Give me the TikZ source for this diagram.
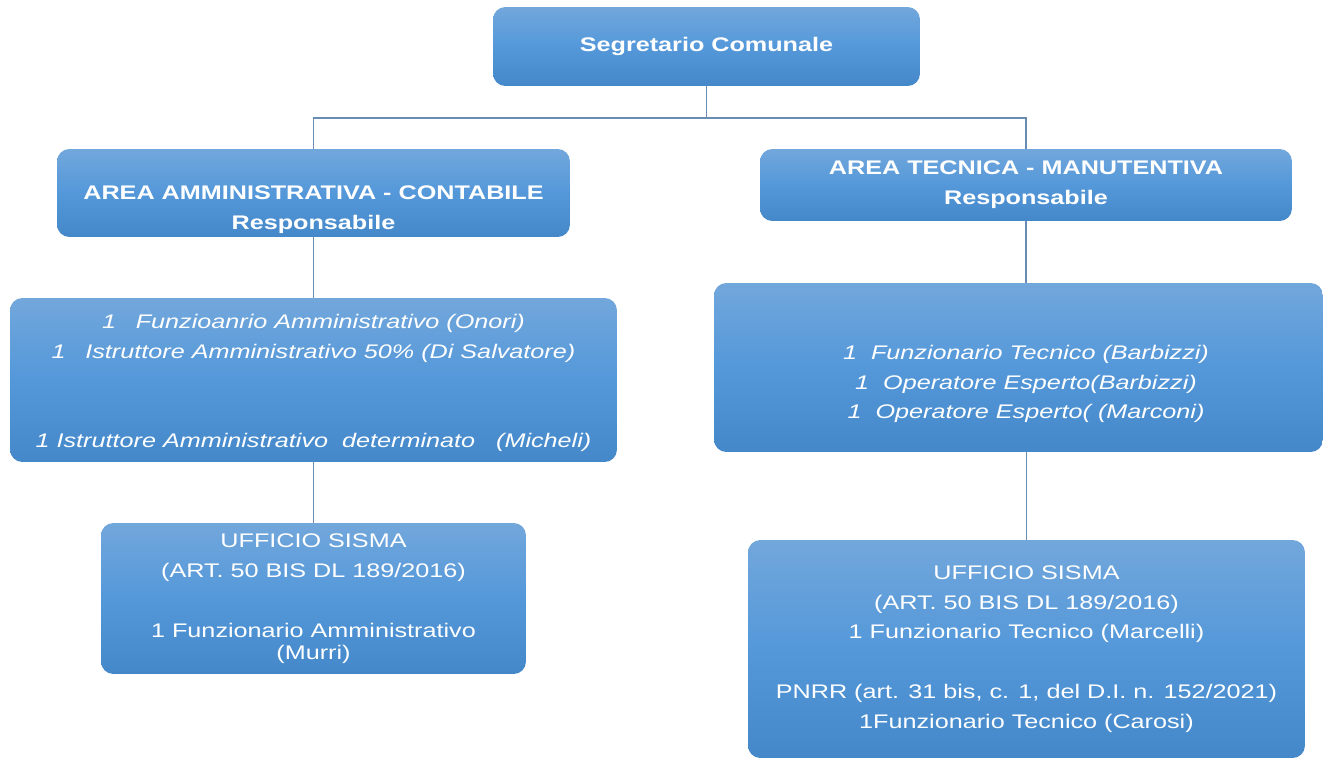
\documentclass[tikz,border=0pt]{standalone}
\usepackage{fontspec}
\setmainfont{Liberation Sans}[FakeStretch=1.28]
\definecolor{boxtop}{RGB}{114,167,219}
\definecolor{boxmid}{RGB}{84,152,218}
\definecolor{boxbot}{RGB}{68,136,201}
\definecolor{linkblue}{RGB}{105,140,180}
\begin{document}
\begin{tikzpicture}[x=0.02cm,y=-0.02cm,
        box/.style={rounded corners=7pt,top color=boxtop,bottom color=boxbot,middle color=boxmid,text=white,align=center,inner sep=0pt},
        head/.style={box,font=\fontsize{11.2}{17}\selectfont\bfseries},
        headtext/.style={text=white,align=center,font=\fontsize{11.2}{17}\selectfont\bfseries},
        staff/.style={box,font=\fontsize{11.2}{17}\selectfont\itshape},
        stafftext/.style={text=white,align=center,font=\fontsize{11.2}{17}\selectfont\itshape},
        office/.style={box,font=\fontsize{11.2}{17}\selectfont},
        link/.style={draw=linkblue,line width=0.8pt}]
        \useasboundingbox (0,0) rectangle (1323,760);

        \node[head,minimum width=8.54cm,minimum height=1.58cm] (seg) at (706.5,46.5) {Segretario Comunale};
        \node[head,minimum width=10.26cm,minimum height=1.76cm] (amm) at (313.5,193) {};
        \node[headtext] (ammtext) at (313.5,210) {AREA AMMINISTRATIVA - CONTABILE\\Responsabile};
        \node[head,minimum width=10.64cm,minimum height=1.44cm] (tec) at (1026,185) {AREA TECNICA - MANUTENTIVA\\Responsabile};

        \node[staff,minimum width=12.14cm,minimum height=3.28cm] (ammstaff) at (313.5,380) {};
        \node[stafftext] (ammstafftext) at (313.5,383) {1\quad Funzioanrio Amministrativo (Onori)\\1\quad Istruttore Amministrativo 50\% (Di Salvatore)\\[34pt]1\ Istruttore Amministrativo\ \ determinato\ \ \ (Micheli)};
        \node[staff,minimum width=12.18cm,minimum height=3.38cm] (tecstaff) at (1018.5,367.5) {};
        \node[stafftext] (tecstafftext) at (1026,384) {1\ \ Funzionario Tecnico (Barbizzi)\\1\ \ Operatore Esperto(Barbizzi)\\1\ \ Operatore Esperto( (Marconi)};

        \node[office,minimum width=8.5cm,minimum height=3.02cm] (ammsisma) at (313.5,598.5) {UFFICIO SISMA\\(ART. 50 BIS DL 189/2016)\\[17pt]1 Funzionario Amministrativo\\[-4.5pt](Murri)};
        \node[office,minimum width=11.14cm,minimum height=4.36cm] (tecsisma) at (1026.5,649) {UFFICIO SISMA\\(ART. 50 BIS DL 189/2016)\\1 Funzionario Tecnico (Marcelli)\\[17pt]PNRR (art. 31 bis, c. 1, del D.I. n. 152/2021)\\1Funzionario Tecnico (Carosi)};

        \coordinate (fork) at (seg.south |- 0,118);
        \draw[link] (seg.south) -- (fork);
        \draw[link] (fork) -| (amm.north);
        \draw[link] (fork) -| (tec.north);
        \draw[link] (amm.south) -- (ammstaff.north);
        \draw[link] (ammstaff.south) -- (ammsisma.north);
        \draw[link] (tec.south) -- (tec.south |- tecstaff.north);
        \draw[link] (tecsisma.north |- tecstaff.south) -- (tecsisma.north);
    \end{tikzpicture}
\end{document}
